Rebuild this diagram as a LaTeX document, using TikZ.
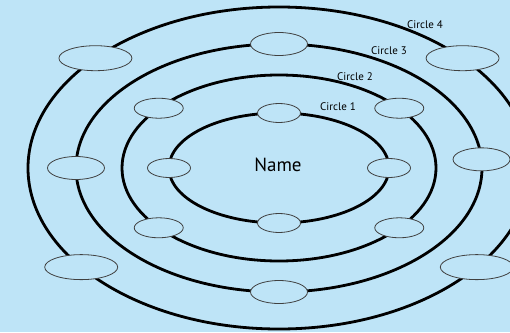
\documentclass[tikz,border=0pt]{standalone}
\usepackage{fontspec}
\setmainfont{PT Sans}
\usetikzlibrary{shapes.geometric}
\definecolor{skyback}{RGB}{190,228,247}

\begin{document}
\begin{tikzpicture}[x=1pt,y=-1pt,
    orbit/.style={draw=black,line width=2.8pt},
    seat/.style={ellipse,draw=black!75,line width=0.8pt,fill=skyback,inner sep=0pt},
    seatA/.style={seat,minimum width=43pt,minimum height=19pt},
    seatB/.style={seat,minimum width=49pt,minimum height=20pt},
    seatC/.style={seat,minimum width=57pt,minimum height=23pt},
    seatD/.style={seat,minimum width=73pt,minimum height=25pt},
    ringlabel/.style={font=\fontsize{11}{13}\selectfont,inner sep=0pt}]
    \fill[skyback] (0,0) rectangle (510,332);
    \useasboundingbox (0,0) rectangle (510,332);
    \coordinate (c) at (279,168);
    % the four circles
    \draw[orbit] (c) ellipse [x radius=110, y radius=55];
    \draw[orbit] (c) ellipse [x radius=157, y radius=93];
    \draw[orbit] (c) ellipse [x radius=203, y radius=124];
    \draw[orbit] (c) ellipse [x radius=251, y radius=161];
    % circle 1 (y points down, so angles run clockwise)
    \node[seatA] (a_n) at ([shift={(c)}]-90:110 and 55) {};
    \node[seatA] (a_w) at ([shift={(c)}]180:110 and 55) {};
    \node[seatA] (a_e) at ([shift={(c)}]0:110 and 55)   {};
    \node[seatA] (a_s) at ([shift={(c)}]90:110 and 55)  {};
    % circle 2
    \node[seatB] (b_ne) at ([shift={(c)}]-40:157 and 93)  {};
    \node[seatB] (b_nw) at ([shift={(c)}]-140:157 and 93) {};
    \node[seatB] (b_sw) at ([shift={(c)}]140:157 and 93)  {};
    \node[seatB] (b_se) at ([shift={(c)}]40:157 and 93)   {};
    % circle 3
    \node[seatC] (c_n) at ([shift={(c)}]-90:203 and 124) {};
    \node[seatC] (c_w) at ([shift={(c)}]180:203 and 124) {};
    \node[seatC] (c_e) at ([shift={(c)}]-4:203 and 124)  {};
    \node[seatC] (c_s) at ([shift={(c)}]90:203 and 124)  {};
    % circle 4
    \node[seatD] (d_ne) at ([shift={(c)}]-43:251 and 161)  {};
    \node[seatD] (d_nw) at ([shift={(c)}]-137:251 and 161) {};
    \node[seatD] (d_sw) at ([shift={(c)}]142:251 and 161)  {};
    \node[seatD] (d_se) at ([shift={(c)}]38:251 and 161)   {};
    % texts
    \node[font=\fontsize{19}{22}\selectfont] (name) at (278,165) {Name};
    \node[ringlabel] (lab1) at (338,107) {Circle 1};
    \node[ringlabel] (lab2) at (355,77)  {Circle 2};
    \node[ringlabel] (lab3) at (389,51)  {Circle 3};
    \node[ringlabel] (lab4) at (425,25)  {Circle 4};
\end{tikzpicture}
\end{document}
